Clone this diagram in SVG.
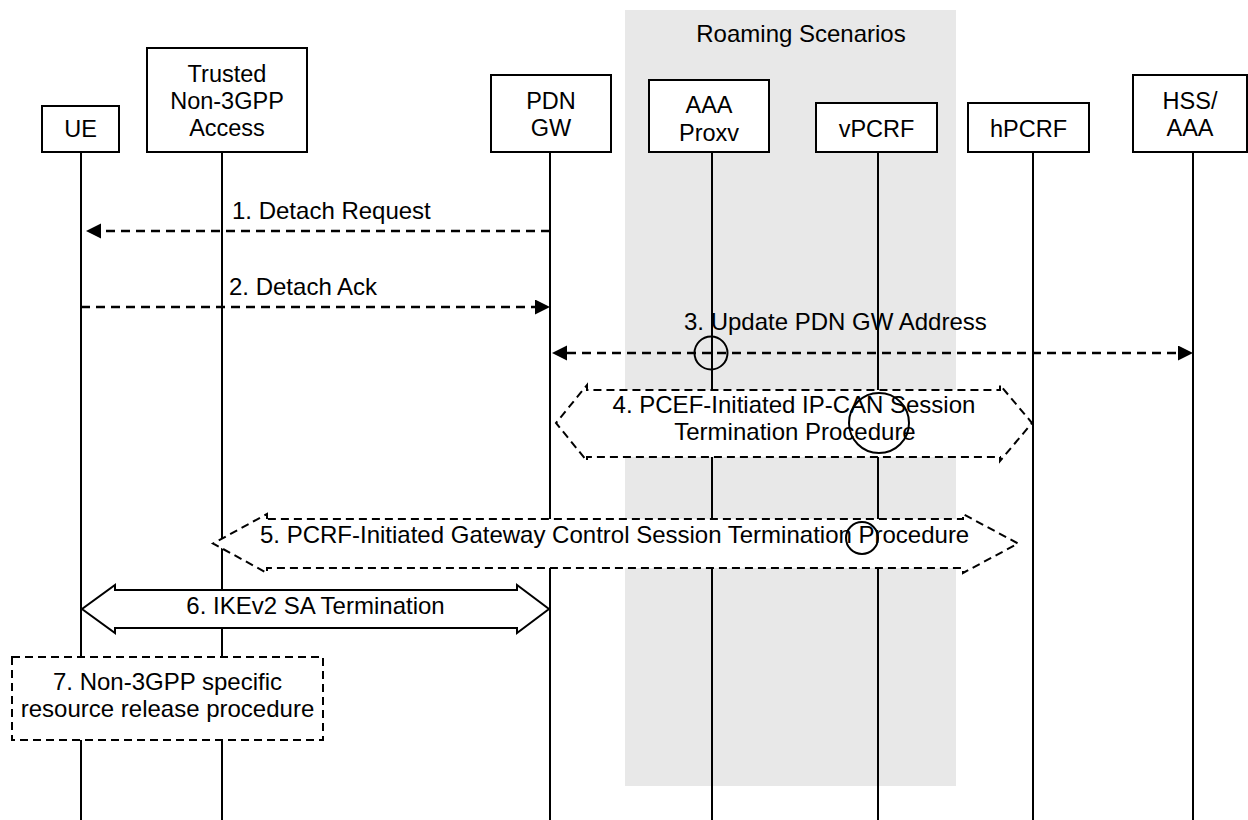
<svg xmlns="http://www.w3.org/2000/svg" width="1248" height="820" viewBox="0 0 1248 820">
<style>
  text { font-family: "Liberation Sans", Arial, sans-serif; fill: #000; }
  .node { font-size: 23.5px; text-anchor: middle; }
  .lbl { font-size: 24px; }
  .mid { text-anchor: middle; }
  .box { fill: #fff; stroke: #000; stroke-width: 2; }
  .life { stroke: #000; stroke-width: 2; fill: none; }
  .msg { stroke: #000; stroke-width: 2.5; stroke-dasharray: 9 6; fill: none; }
  .proc { fill: #fff; stroke: #000; stroke-width: 2; stroke-dasharray: 8 5; }
  .solid { fill: #fff; stroke: #000; stroke-width: 2; }
  .ring { fill: none; stroke: #000; stroke-width: 2; }
</style>
<defs>
  <marker id="head" markerUnits="userSpaceOnUse" markerWidth="16" markerHeight="16" refX="0" refY="7.5" orient="auto-start-reverse" viewBox="0 0 16 16">
    <path d="M0,0 L15,7.5 L0,15 z" fill="#000" stroke="none"/>
  </marker>
</defs>

<g id="roaming">
  <rect x="625" y="10" width="331" height="776" fill="#e8e8e8"/>
  <text class="lbl mid" x="801" y="42">Roaming Scenarios</text>
</g>

<g id="ue">
  <line class="life" x1="81" y1="152" x2="81" y2="820"/>
  <rect class="box" x="42" y="106" width="77" height="46"/>
  <text class="node" x="80.5" y="137">UE</text>
</g>
<g id="trusted">
  <line class="life" x1="222" y1="152" x2="222" y2="820"/>
  <rect class="box" x="147" y="48" width="160" height="104"/>
  <text class="node" x="227" y="82">Trusted</text>
  <text class="node" x="227" y="109">Non-3GPP</text>
  <text class="node" x="227" y="136">Access</text>
</g>
<g id="pdngw">
  <line class="life" x1="550" y1="152" x2="550" y2="820"/>
  <rect class="box" x="491" y="75" width="120" height="77"/>
  <text class="node" x="551" y="109">PDN</text>
  <text class="node" x="551" y="136">GW</text>
</g>
<g id="aaaproxy">
  <line class="life" x1="712" y1="152" x2="712" y2="820"/>
  <rect class="box" x="649" y="80" width="120" height="72"/>
  <text class="node" x="709" y="113">AAA</text>
  <text class="node" x="709" y="141">Proxv</text>
</g>
<g id="vpcrf">
  <line class="life" x1="878" y1="152" x2="878" y2="820"/>
  <rect class="box" x="816" y="103" width="121" height="49"/>
  <text class="node" x="876.5" y="137">vPCRF</text>
</g>
<g id="hpcrf">
  <line class="life" x1="1033" y1="152" x2="1033" y2="820"/>
  <rect class="box" x="968" y="103" width="121" height="49"/>
  <text class="node" x="1028.5" y="137">hPCRF</text>
</g>
<g id="hssaaa">
  <line class="life" x1="1193" y1="152" x2="1193" y2="820"/>
  <rect class="box" x="1133" y="75" width="114" height="77"/>
  <text class="node" x="1190" y="109">HSS/</text>
  <text class="node" x="1190" y="136">AAA</text>
</g>

<g id="connectors">
  <line class="msg" x1="550" y1="231" x2="101" y2="231" marker-end="url(#head)"/>
  <text class="lbl" x="232" y="219">1. Detach Request</text>
  <line class="msg" x1="81" y1="307" x2="535" y2="307" marker-end="url(#head)"/>
  <text class="lbl" x="229" y="295">2. Detach Ack</text>
  <line class="msg" x1="567" y1="353" x2="1178" y2="353" marker-start="url(#head)" marker-end="url(#head)"/>
  <text class="lbl" x="684" y="330">3. Update PDN GW Address</text>
  <circle class="ring" cx="711" cy="353" r="16.5"/>
</g>

<g id="step4">
  <path class="proc" d="M587,390 L587,385 L556,423 L587,461 L587,457 L1000,457 L1000,461 L1032,423 L1000,385 L1000,390 Z"/>
  <text class="lbl mid" x="794" y="413">4. PCEF-Initiated IP-CAN Session</text>
  <text class="lbl mid" x="795" y="440">Termination Procedure</text>
  <circle class="ring" cx="879" cy="423" r="30"/>
</g>

<g id="step5">
  <path class="proc" d="M267,519 L267,514 L213,543.5 L267,573 L267,568 L963,568 L963,573 L1018,543.5 L963,514 L963,519 Z"/>
  <text class="lbl" x="260" y="543">5. PCRF-Initiated Gateway Control Session Termination Procedure</text>
  <circle class="ring" cx="862" cy="538" r="16"/>
</g>

<g id="step6">
  <path class="solid" d="M115,590 L115,585 L82,609 L115,633 L115,628 L517,628 L517,633 L549,609 L517,585 L517,590 Z"/>
  <text class="lbl mid" x="315.5" y="614">6. IKEv2 SA Termination</text>
</g>

<g id="step7">
  <rect class="proc" x="12" y="657" width="311" height="83"/>
  <text class="lbl mid" x="167.5" y="690">7. Non-3GPP specific</text>
  <text class="lbl mid" x="167.5" y="717">resource release procedure</text>
</g>
</svg>
